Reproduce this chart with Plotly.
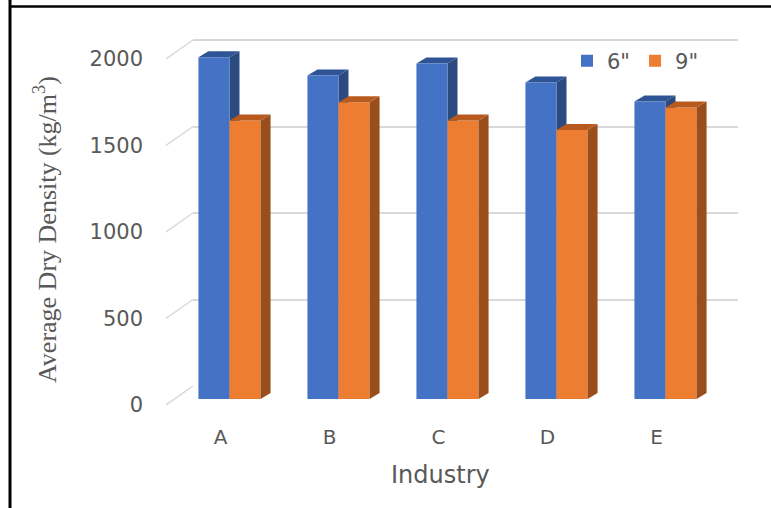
import plotly.graph_objects as go

# ---- data ----
industries = ["A", "B", "C", "D", "E"]
density_6in = [1975, 1870, 1940, 1830, 1720]
density_9in = [1610, 1715, 1610, 1555, 1685]
series_names = ['6"', '9"']
y_ticks = [0, 500, 1000, 1500, 2000]

# ---- styling ----
W, H = 771, 508
BLUE, BLUE_TOP, BLUE_SIDE = "#4472C4", "#2F5496", "#2A4A80"
ORANGE, ORANGE_TOP, ORANGE_SIDE = "#ED7D31", "#B85A1E", "#9A4E1C"
GRID = "#D9D9D9"
TEXT = "#595959"
SANS = "DejaVu Sans"
SERIF = "Liberation Serif"

# pseudo-3D geometry (pixels)
CAT_PX = 109            # width of one category slot
FRONT_X0 = 166          # left edge of the front plane
FRONT_Y0 = 405          # value 0 on the front plane
PX_PER_UNIT = 0.173     # vertical scale
Y_MAX = 2200
BAR_SHIFT = (9, -6)     # front face of the bars relative to front plane
WALL_SHIFT = (27, -19)  # back wall relative to front plane
DEPTH = (10, -6)        # bar depth (side / top faces)
BAR_W = 0.285           # bar width in category units

n = len(industries)
pos = list(range(n))
x_range = [-0.5, n - 0.5]
y_range = [0, Y_MAX]


def xdom(shift):
    x0 = FRONT_X0 + shift
    return [x0 / W, (x0 + CAT_PX * n) / W]


def ydom(shift):
    y0 = FRONT_Y0 + shift
    return [(H - y0) / H, (H - (y0 - Y_MAX * PX_PER_UNIT)) / H]


# depth offsets in data units
ddx = DEPTH[0] / CAT_PX
ddy = -DEPTH[1] / PX_PER_UNIT

fig = go.Figure()

# subplot 1: back wall (gridlines), subplot 2: front plane (labels), subplot 3: bars
fig.add_trace(go.Scatter(x=[None], y=[None], xaxis="x", yaxis="y",
                         showlegend=False, hoverinfo="skip"))
fig.add_trace(go.Scatter(x=[None], y=[None], xaxis="x2", yaxis="y2",
                         showlegend=False, hoverinfo="skip"))

fig.add_trace(go.Bar(
    x=pos, y=density_6in, name=series_names[0], width=BAR_W, offset=-BAR_W,
    marker=dict(color=BLUE, line=dict(width=0)), xaxis="x3", yaxis="y3"))
fig.add_trace(go.Bar(
    x=pos, y=density_9in, name=series_names[1], width=BAR_W, offset=0,
    marker=dict(color=ORANGE, line=dict(width=0)), xaxis="x3", yaxis="y3"))

shapes = []


def faces(left, right, val, top_col, side_col, layer):
    top = (f"M{left},{val} L{right},{val} L{right + ddx},{val + ddy} "
           f"L{left + ddx},{val + ddy} Z")
    side = (f"M{right},0 L{right},{val} L{right + ddx},{val + ddy} "
            f"L{right + ddx},{ddy} Z")
    out = []
    for path, col in ((side, side_col), (top, top_col)):
        out.append(dict(type="path", path=path, xref="x3", yref="y3",
                        fillcolor=col, line=dict(width=0), layer=layer))
    return out


for i, p in enumerate(pos):
    shapes += faces(p - BAR_W, p, density_6in[i], BLUE_TOP, BLUE_SIDE, "between")
for i, p in enumerate(pos):
    shapes += faces(p, p + BAR_W, density_9in[i], ORANGE_TOP, ORANGE_SIDE, "above")

# side-wall gridlines from the front plane to the back wall
wall_dx = WALL_SHIFT[0] / CAT_PX
wall_dy = -WALL_SHIFT[1] / PX_PER_UNIT
for v in y_ticks:
    shapes.append(dict(type="line", xref="x2", yref="y2",
                       x0=x_range[0], y0=v, x1=x_range[0] + wall_dx, y1=v + wall_dy,
                       line=dict(color=GRID, width=1.5), layer="below"))

# outer frame (left and top edges)
shapes.append(dict(type="line", xref="paper", yref="paper", x0=10 / W, x1=10 / W,
                   y0=0, y1=1, line=dict(color="black", width=3)))
shapes.append(dict(type="line", xref="paper", yref="paper", x0=10 / W, x1=1,
                   y0=(H - 6.5) / H, y1=(H - 6.5) / H, line=dict(color="black", width=2.5)))

hidden = dict(showgrid=False, zeroline=False, showline=False, showticklabels=False,
              ticks="", automargin=False)

fig.update_layout(
    width=W, height=H, autosize=False,
    margin=dict(l=0, r=0, t=0, b=0, pad=0, autoexpand=False),
    paper_bgcolor="white", plot_bgcolor="rgba(0,0,0,0)",
    barmode="overlay", shapes=shapes,
    font=dict(family=SANS, color=TEXT),
    # back wall
    xaxis=dict(domain=xdom(WALL_SHIFT[0]), range=x_range, anchor="y", **hidden),
    yaxis=dict(domain=ydom(WALL_SHIFT[1]), range=y_range, anchor="x",
               showgrid=True, gridcolor=GRID, gridwidth=1.5, tickvals=y_ticks,
               zeroline=False, showline=False, showticklabels=False, ticks="",
               automargin=False),
    # front plane with tick labels
    xaxis2=dict(domain=xdom(0), range=x_range, anchor="y2", tickvals=pos,
                ticktext=industries, showgrid=False, zeroline=False, showline=False,
                ticks="", ticklabelstandoff=18, automargin=False,
                tickfont=dict(size=20, color=TEXT)),
    yaxis2=dict(domain=ydom(0), range=y_range, anchor="x2", tickvals=y_ticks,
                showgrid=False, zeroline=False, showline=False, ticks="",
                ticklabelstandoff=22, automargin=False,
                tickfont=dict(size=21, color=TEXT)),
    # bars
    xaxis3=dict(domain=xdom(BAR_SHIFT[0]), range=x_range, anchor="y3", **hidden),
    yaxis3=dict(domain=ydom(BAR_SHIFT[1]), range=y_range, anchor="x3", **hidden),
    legend=dict(orientation="h", x=567 / W, y=(H - 61) / H, xanchor="left",
                yanchor="middle", font=dict(size=21, color=TEXT),
                bgcolor="rgba(0,0,0,0)", itemwidth=30, tracegroupgap=0),
    annotations=[
        dict(text="Industry", xref="paper", yref="paper", x=440 / W, y=(H - 475) / H,
             xanchor="center", yanchor="middle", showarrow=False,
             font=dict(size=24, color=TEXT, family=SANS)),
        dict(text="Average Dry Density (kg/m<sup>3</sup>)", xref="paper", yref="paper",
             x=45 / W, y=(H - 230) / H, xanchor="center", yanchor="middle",
             textangle=-90, showarrow=False,
             font=dict(size=26, color=TEXT, family=SERIF)),
    ],
)

fig.write_html("out.html")
